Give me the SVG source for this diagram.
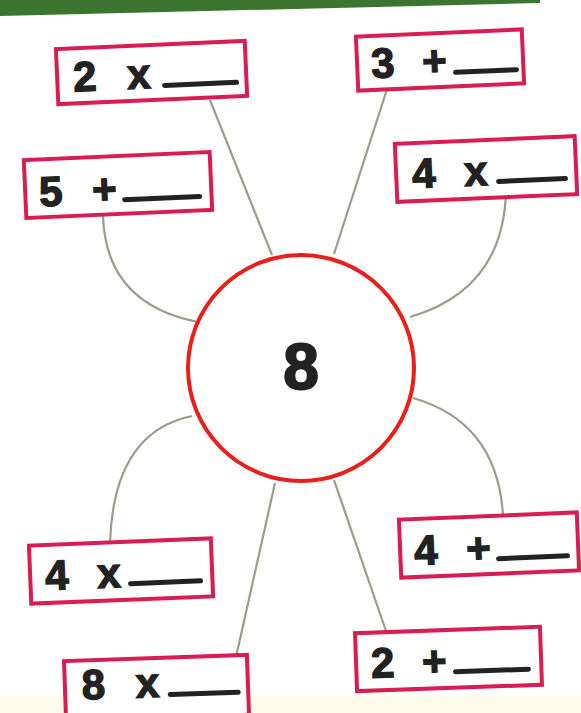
<svg xmlns="http://www.w3.org/2000/svg" width="581" height="713" viewBox="0 0 581 713">
<style>
.box{fill:#fff;stroke:#d91c52;stroke-width:4}
.t{font-family:"Liberation Sans",Arial,sans-serif;font-weight:bold;font-size:42px;fill:#222;stroke:#222;stroke-width:1.4}
.blank{stroke:#222;stroke-width:5;stroke-linecap:round}
.conn{fill:none;stroke:#9c9b8c;stroke-width:2.2}
</style>
<rect width="581" height="713" fill="#fff"/>
<rect x="0" y="696" width="581" height="17" fill="#fdfaea"/>
<polygon points="0,0 540,0 540,3 0,16" fill="#3b7530"/>
<g id="connectors">
<line class="conn" x1="210" y1="100" x2="272" y2="255"/>
<line class="conn" x1="388" y1="86" x2="334" y2="254"/>
<path class="conn" d="M103,216 Q106,304 198,322"/>
<path class="conn" d="M506,192 Q503,290 410,317"/>
<path class="conn" d="M110,542 Q114,432 192,416"/>
<path class="conn" d="M503,515 Q497,422 413,398"/>
<line class="conn" x1="275" y1="483" x2="236" y2="657"/>
<line class="conn" x1="334" y1="480" x2="386" y2="631"/>
</g>
<g id="center">
<circle cx="301" cy="368" r="113" fill="#fff" stroke="#e8201c" stroke-width="4"/>
<text x="301" y="389" text-anchor="middle" class="t" style="font-size:64px;stroke-width:2">8</text>
</g>
<g id="boxA" transform="rotate(-2.5 151 72)">
<rect class="box" x="57" y="45" width="189" height="55"/>
<text class="t" y="88"><tspan x="73">2</tspan><tspan x="127">x</tspan></text>
<line class="blank" x1="164" y1="86" x2="236" y2="86"/>
</g>
<g id="boxB" transform="rotate(-2.5 440 60)">
<rect class="box" x="357" y="33" width="166" height="54"/>
<text class="t" y="75"><tspan x="371">3</tspan><tspan x="422">+</tspan></text>
<line class="blank" x1="455" y1="73" x2="516" y2="73"/>
</g>
<g id="boxC" transform="rotate(-2.5 118 185)">
<rect class="box" x="25" y="156" width="186" height="58"/>
<text class="t" y="203"><tspan x="39">5</tspan><tspan x="92">+</tspan></text>
<line class="blank" x1="124" y1="200" x2="199" y2="200"/>
</g>
<g id="boxD" transform="rotate(-2.5 486 169)">
<rect class="box" x="396" y="140" width="180" height="58"/>
<text class="t" y="185"><tspan x="412">4</tspan><tspan x="464">x</tspan></text>
<line class="blank" x1="498" y1="182" x2="565" y2="182"/>
</g>
<g id="boxE" transform="rotate(-2.3 121 570)">
<rect class="box" x="30" y="542" width="182" height="58"/>
<text class="t" y="587"><tspan x="45">4</tspan><tspan x="97">x</tspan></text>
<line class="blank" x1="130" y1="584" x2="200" y2="584"/>
</g>
<g id="boxF" transform="rotate(-2.3 489 545)">
<rect class="box" x="400" y="516" width="178" height="58"/>
<text class="t" y="562"><tspan x="414">4</tspan><tspan x="466">+</tspan></text>
<line class="blank" x1="498" y1="559" x2="567" y2="559"/>
</g>
<g id="boxG" transform="rotate(-2 156 688)">
<rect class="box" x="65" y="658" width="183" height="60"/>
<text class="t" y="697"><tspan x="82">8</tspan><tspan x="136">x</tspan></text>
<line class="blank" x1="170" y1="695" x2="238" y2="695"/>
</g>
<g id="boxH" transform="rotate(-2 448 659)">
<rect class="box" x="356" y="630" width="185" height="58"/>
<text class="t" y="675"><tspan x="371">2</tspan><tspan x="422">+</tspan></text>
<line class="blank" x1="455" y1="672" x2="528" y2="672"/>
</g>
</svg>
